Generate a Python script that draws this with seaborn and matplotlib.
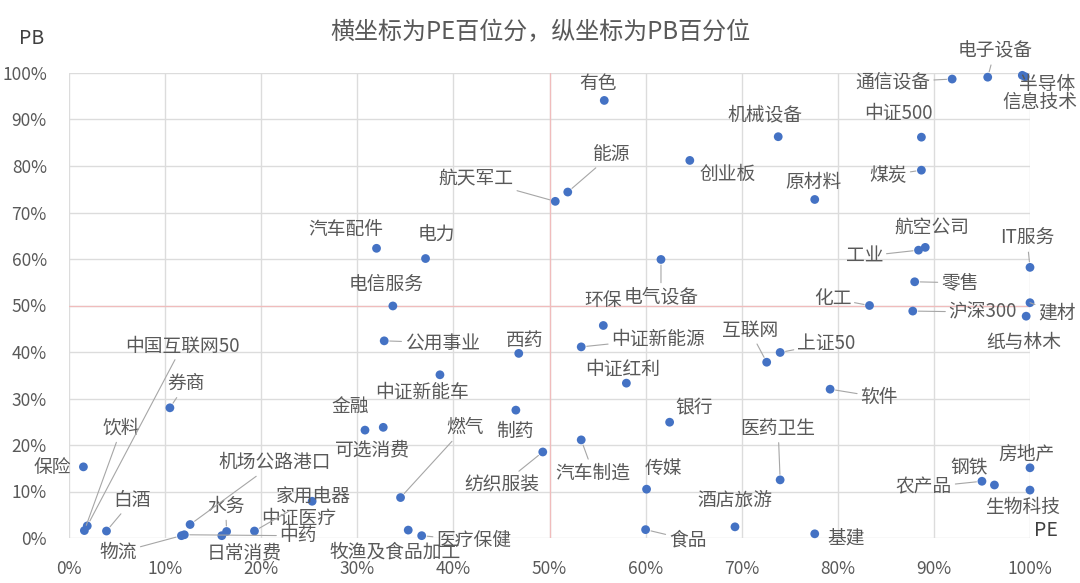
import seaborn as sns
import matplotlib.pyplot as plt
import pandas as pd

# 各指数・業種の PE / PB 百分位 (%)
names = ['有色', '能源', '航天军工', '创业板', '汽车配件', '电力', '电气设备', '电信服务',
         '通信设备', '电子设备', '半导体', '信息技术', '机械设备', '中证500', '煤炭', '原材料',
         '航空公司', '工业', 'IT服务', '零售', '化工', '沪深300', '建材', '纸与林木',
         '互联网', '上证50', '软件', '医药卫生', '酒店旅游', '基建', '房地产', '钢铁',
         '农产品', '生物科技', '中证红利', '环保', '中证新能源', '西药', '中证新能车', '公用事业',
         '金融', '可选消费', '银行', '制药', '燃气', '汽车制造', '纺织服装', '传媒',
         '食品', '医疗保健', '牧渔及食品加工', '中证医疗', '家用电器', '中药', '日常消费', '水务',
         '机场公路港口', '物流', '白酒', '券商', '保险', '饮料', '中国互联网50']
pe = [55.7, 51.9, 50.6, 64.6, 32.0, 37.1, 61.6, 33.7,
      91.9, 95.6, 99.2, 99.5, 73.8, 88.7, 88.7, 77.6,
      89.1, 88.4, 100.0, 88.0, 83.3, 87.8, 100.0, 99.6,
      72.6, 74.0, 79.2, 74.0, 69.3, 77.6, 100.0, 96.3,
      95.0, 100.0, 58.0, 55.6, 53.3, 46.8, 38.6, 32.8,
      30.8, 32.7, 62.5, 46.5, 34.5, 53.3, 49.3, 60.1,
      60.0, 36.7, 35.3, 25.3, 19.3, 12.0, 15.9, 16.4,
      12.6, 11.7, 3.9, 10.5, 1.5, 1.6, 1.9]
pb = [94.1, 74.4, 72.4, 81.2, 62.3, 60.1, 59.9, 49.9,
      98.7, 99.1, 99.5, 99.2, 86.3, 86.2, 79.1, 72.8,
      62.5, 61.9, 58.2, 55.1, 50.0, 48.8, 50.6, 47.7,
      37.8, 39.9, 32.0, 12.5, 2.4, 0.9, 15.1, 11.4,
      12.2, 10.3, 33.3, 45.7, 41.1, 39.7, 35.1, 42.4,
      23.2, 23.8, 24.9, 27.5, 8.7, 21.1, 18.5, 10.5,
      1.8, 0.5, 1.7, 7.9, 1.5, 0.7, 0.5, 1.4,
      2.9, 0.5, 1.5, 28.0, 15.3, 1.6, 2.6]
ticks = list(range(0, 101, 10))
tick_labels = [f'{t}%' for t in ticks]

# ラベルの位置 (点からのずれ, ピクセル) と引き出し線の有無
label_offsets = {
    '有色': (-6, 17), '能源': (44, 38), '航天军工': (-79, 22), '创业板': (38, -14),
    '汽车配件': (-31, 19), '电力': (11, 23), '电气设备': (0, -37), '电信服务': (-7, 22),
    '通信设备': (-59, -3), '电子设备': (7, 26), '半导体': (25, -9), '信息技术': (15, -26),
    '机械设备': (-13, 22), '中证500': (-23, 24), '煤炭': (-33, -5), '原材料': (-1, 17),
    '航空公司': (7, 20), '工业': (-54, -6), 'IT服务': (-3, 29), '零售': (45, -1),
    '化工': (-37, 7), '沪深300': (70, -1), '建材': (27, -10), '纸与林木': (-2, -26),
    '互联网': (-17, 32), '上证50': (46, 9), '软件': (49, -8), '医药卫生': (-2, 51),
    '酒店旅游': (0, 27), '基建': (31, -4), '房地产': (-4, 14), '钢铁': (-25, 17),
    '农产品': (-58, -6), '生物科技': (-7, -17), '中证红利': (-4, 14), '环保': (0, 25),
    '中证新能源': (77, 8), '西药': (6, 13), '中证新能车': (-18, -17), '公用事业': (58, -2),
    '金融': (-15, 24), '可选消费': (-11, -23), '银行': (24, 14), '制药': (-1, -21),
    '燃气': (64, 70), '汽车制造': (12, -33), '纺织服装': (-41, -33), '传媒': (17, 21),
    '食品': (42, -10), '医疗保健': (52, -5), '牧渔及食品加工': (-13, -22), '中证医疗': (-13, -17),
    '家用电器': (59, 34), '中药': (114, -1), '日常消费': (22, -17), '水务': (-1, 25),
    '机场公路港口': (85, 62), '物流': (-63, -17), '白酒': (26, 31), '券商': (16, 24),
    '保险': (-31, -1), '饮料': (37, 102), '中国互联网50': (95, 180),
}
leaders = {'能源', '航天军工', '电气设备', '通信设备', '电子设备', '煤炭', '工业', 'IT服务',
           '零售', '化工', '沪深300', '建材', '互联网', '上证50', '软件', '医药卫生', '农产品',
           '中证新能源', '公用事业', '燃气', '汽车制造', '纺织服装', '食品', '医疗保健',
           '家用电器', '中药', '水务', '机场公路港口', '物流', '白酒', '券商', '饮料', '中国互联网50'}

df = pd.DataFrame({'name': names, 'PE': pe, 'PB': pb})

sns.set_style('white')
plt.rcParams['font.family'] = ['Noto Sans CJK SC', 'DejaVu Sans']
text_color = '#595959'

fig = plt.figure(figsize=(10.8, 5.83), dpi=100)
ax = fig.add_axes([69 / 1080, 1 - 538 / 583, (1030 - 69) / 1080, (538 - 73) / 583])

# 50% の基準線
ax.axvline(50, color='#F0BCBC', lw=0.9, zorder=1)
ax.axhline(50, color='#F0BCBC', lw=0.9, zorder=1)
sns.scatterplot(data=df, x='PE', y='PB', ax=ax, color='#4472C4', s=40,
                edgecolor='none', zorder=3, clip_on=False)

for n, x, y in zip(names, pe, pb):
    dx, dy = label_offsets[n]
    arrow = dict(arrowstyle='-', color='#A6A6A6', lw=0.8, shrinkA=0, shrinkB=4) if n in leaders else None
    ax.annotate(n, (x, y), xytext=(dx, dy), textcoords='offset pixels',
                ha='center', va='center', fontsize=13.5, color=text_color,
                arrowprops=arrow, annotation_clip=False, zorder=4)

ax.set_xlim(0, 100)
ax.set_ylim(0, 100)
ax.set_xticks(ticks)
ax.set_yticks(ticks)
ax.set_xticklabels(tick_labels)
ax.set_yticklabels(tick_labels)
ax.tick_params(length=0, labelsize=12.5, labelcolor=text_color)
ax.tick_params(axis='x', pad=16)
ax.tick_params(axis='y', pad=16)
ax.grid(True, color='#DCDCDC', lw=1)
ax.set_axisbelow(True)
ax.set_xlabel('')
ax.set_ylabel('')
for s in ax.spines.values():
    s.set_visible(False)

fig.text(540 / 1080, 1 - 32 / 583, '横坐标为PE百位分，纵坐标为PB百分位', ha='center', va='center',
         fontsize=17.3, color=text_color)
fig.text(32 / 1080, 1 - 38 / 583, 'PB', ha='center', va='center', fontsize=14, color='#404040')
fig.text(1046 / 1080, 1 - 531 / 583, 'PE', ha='center', va='center', fontsize=14, color='#404040')

fig.savefig('out.png', dpi=100)
